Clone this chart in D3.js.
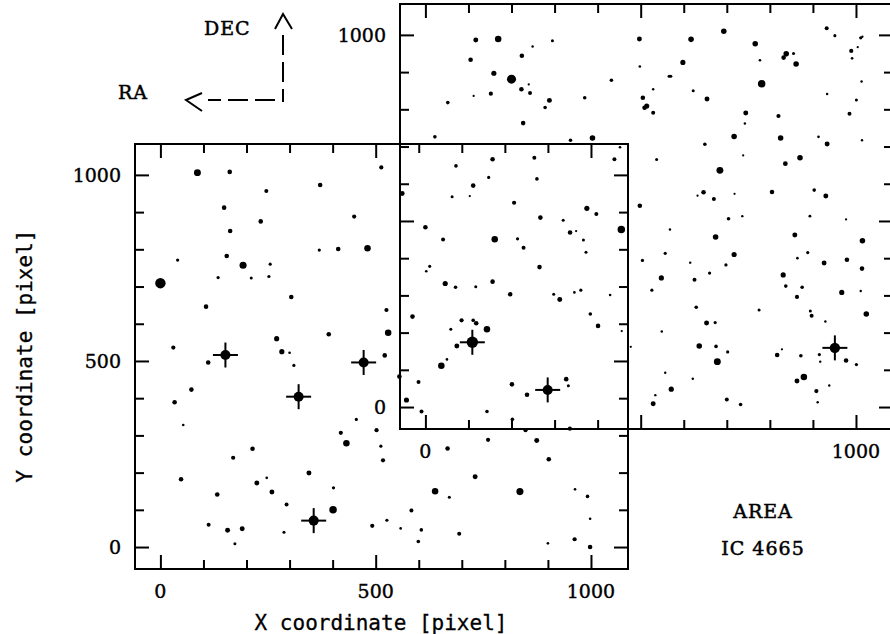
<!DOCTYPE html>
<html>
<head>
<meta charset="utf-8">
<script src="https://cdn.jsdelivr.net/npm/d3@7"></script>
<style>
  html, body { margin: 0; padding: 0; background: #fff; }
  svg { display: block; }
  .num { font-family: "DejaVu Serif", serif; font-size: 19px; fill: #000; stroke: #000; stroke-width: 0.4px; }
  .title { font-family: "DejaVu Sans Mono", monospace; font-size: 21px; fill: #000; stroke: #000; stroke-width: 0.3px; }
  .note { font-family: "DejaVu Serif", serif; font-size: 19px; letter-spacing: 1px; fill: #000; stroke: #000; stroke-width: 0.5px; }
</style>
</head>
<body>
<svg id="chart" width="890" height="634"></svg>
<script>
// Tick positions (pixel coordinates of the CCD frames)
const tickValues = [0, 100, 200, 300, 400, 500, 600, 700, 800, 900, 1000];
const majorTicks = [0, 500, 1000];
const fieldALabels = [0, 500, 1000];
const fieldBLabels = [0, 1000];

// Field A stars: [x, y, magnitude]
const fieldAStars = [
  [86,1006,12.8],[161,1008,14.0],[513,1020,14.2],[371,973,14.0],[246,957,14.3],
  [148,912,14.0],[233,875,14.0],[450,888,14.2],[162,849,14.0],[369,798,14.7],
  [413,801,14.0],[481,803,13.0],[40,771,14.7],[154,782,14.0],[192,757,12.7],
  [255,760,14.7],[0,709,11.0],[134,724,14.7],[211,723,14.8],[252,727,14.7],
  [304,672,14.0],[106,646,14.0],[525,637,14.2],[529,576,13.0],[391,572,14.0],
  [270,560,13.7],[30,536,14.2],[282,525,13.7],[300,522,15.0],[521,515,14.0],
  [111,496,14.0],[310,488,14.7],[555,458,14.0],[72,423,14.0],[33,389,14.0],
  [53,328,15.0],[455,343,14.7],[419,307,14.2],[502,314,14.2],[432,279,13.0],
  [512,271,14.7],[214,264,14.0],[169,240,14.2],[517,233,14.2],[48,182,14.0],
  [345,199,13.8],[247,186,15.0],[224,172,13.8],[132,141,14.0],[259,148,13.8],
  [402,159,14.7],[293,114,14.3],[401,100,12.5],[112,60,14.3],[156,45,13.8],
  [190,49,13.8],[492,57,14.2],[526,72,14.7],[287,40,14.8],[173,9,14.8],
  [558,50,15.0],[667,265,14.0],[761,288,14.2],[874,286,13.8],[902,236,14.0],
  [731,189,13.8],[638,150,13.0],[835,149,12.7],[671,134,14.8],[963,155,15.0],
  [992,136,14.5],[583,98,14.3],[606,46,14.5],[694,36,14.3],[599,15,14.5],
  [998,76,15.0],[900,10,15.0],[962,21,14.2],[998,0,14.0],[848,314,14.2],
  [951,318,14.2]
];
// Field A marked (cross) stars: [x, y, magnitude]
const fieldAMarked = [[151,516,11.2],[472,496,11.2],[321,404,11.2],[356,71,11.2]];

// Field B stars: [x, y, magnitude]
const fieldBStars = [
  [156,666,14.0],[253,670,14.3],[71,648,14.5],[439,666,14.3],[452,698,15.0],
  [147,617,14.7],[259,613,14.5],[111,595,14.0],[-54,574,13.8],[62,565,14.8],
  [103,567,15.2],[206,549,14.2],[375,534,13.7],[397,519,14.3],[267,509,14.0],
  [320,502,14.8],[0,483,14.0],[161,451,13.0],[41,450,14.3],[214,452,14.7],
  [336,469,14.0],[350,473,15.2],[367,449,14.8],[455,477,12.5],[228,428,14.3],
  [373,416,14.8],[10,378,14.8],[2,365,15.0],[265,376,14.0],[46,332,13.7],
  [70,322,14.5],[117,323,14.8],[156,337,14.0],[197,303,14.0],[298,303,14.8],
  [312,289,13.8],[346,308,15.0],[361,314,14.7],[429,301,15.0],[-30,243,14.0],
  [383,250,14.5],[84,233,14.2],[111,233,14.5],[118,225,14.0],[143,209,13.0],
  [59,209,14.8],[401,218,14.0],[456,204,15.2],[73,164,13.8],[50,128,15.0],
  [37,111,13.0],[-16,67,14.3],[327,75,14.0],[332,57,14.8],[201,61,14.0],
  [236,33,14.0],[-44,19,13.7],[-9,-12,14.3],[143,-12,14.5],[202,-33,14.5],
  [337,717,14.5],[388,723,13.5],[477,162,15.2],
  [117,986,13.8],[169,989,13.0],[295,984,14.8],[249,969,15.1],[497,989,13.8],
  [498,915,15.0],[105,933,14.0],[224,944,14.0],[159,897,13.7],[200,881,11.7],
  [240,867,15.2],[223,854,14.0],[243,844,14.3],[152,842,14.2],[112,836,15.2],
  [432,878,14.5],[370,831,14.5],[288,824,13.8],[52,818,14.5],[278,805,14.5],
  [227,763,14.0],[22,726,14.5],
  [932,1018,14.3],[951,998,14.8],[693,1010,13.5],[617,988,13.5],[766,976,13.5],
  [1011,992,14.7],[1015,995,15.2],[838,949,13.5],[832,939,14.0],[855,950,14.8],
  [861,922,13.5],[989,957,14.2],[1004,967,15.2],[991,937,15.0],[598,926,13.7],
  [777,932,15.0],[566,889,14.8],[570,889,14.8],[781,869,12.5],[1013,875,15.1],
  [529,854,15.1],[622,850,14.8],[505,831,14.0],[654,828,13.8],[933,841,15.1],
  [514,809,13.7],[509,804,14.0],[529,791,14.3],[744,790,13.8],[820,782,14.2],
  [1001,825,14.8],[985,788,14.3],[742,762,15.1],[717,727,13.5],[825,723,13.5],
  [913,726,15.0],[933,707,13.8],[1014,717,15.1],[649,706,14.5],[537,665,14.8],
  [738,676,15.2],[870,670,13.5],[836,654,13.9],[684,636,12.8],[646,577,14.0],
  [632,568,15.2],[670,559,14.3],[718,573,15.2],[805,578,14.0],[903,583,14.5],
  [930,567,13.8],[498,541,14.0],[704,506,14.5],[736,513,15.1],[893,513,14.9],
  [977,504,15.2],[568,477,15.1],[674,457,13.5],[858,462,13.8],[1015,447,13.5],
  [504,394,14.7],[557,413,14.7],[615,388,15.1],[717,410,13.7],[698,382,14.7],
  [660,360,14.7],[864,400,15.0],[888,415,14.7],[926,387,13.8],[979,396,14.0],
  [1014,372,14.0],[548,347,13.7],[625,342,14.3],[831,355,13.7],[526,314,14.7],
  [837,325,14.5],[875,322,14.5],[863,296,14.2],[967,308,13.7],[1011,312,15.1],
  [629,268,14.5],[775,261,14.8],[894,258,14.8],[897,245,14.3],[1024,250,13.5],
  [653,226,13.8],[673,227,14.7],[929,230,15.1],[549,203,15.1],[636,164,13.5],
  [675,163,14.5],[702,148,14.7],[678,122,12.8],[817,140,14.0],[828,155,15.2],
  [872,138,14.5],[915,141,14.7],[917,122,15.1],[977,125,14.0],[1001,114,14.7],
  [557,92,15.1],[621,76,15.1],[879,81,13.0],[863,70,13.8],[571,48,13.7],
  [938,58,15.1],[908,43,14.2],[534,32,15.1],[529,9,13.8],[700,20,14.3],
  [732,7,14.5],[911,13,15.1]
];
// Field B marked (cross) stars: [x, y, magnitude]
const fieldBMarked = [[109,174,10.5],[284,46,11.2],[951,159,11.0]];

const W = 493, H = 425;
const xDomain = [-59, 1086], yDomain = [-59, 1083];
const minorLen = 9, majorLen = 14, crossArm = 12.5;

const svg = d3.select("#chart");
const rScale = d3.scaleLinear().domain([16, 11]).range([0.35, 5.2]);

function drawField(ox, oy, stars, marked, labels) {
  const g = svg.append("g").attr("transform", `translate(${ox},${oy})`);
  const x = d3.scaleLinear().domain(xDomain).range([0, W]);
  const y = d3.scaleLinear().domain(yDomain).range([H, 0]);

  // frame
  g.append("rect").attr("x", 0).attr("y", 0).attr("width", W).attr("height", H)
    .attr("fill", "none").attr("stroke", "#000").attr("stroke-width", 2);

  // inward ticks on all four sides
  const minor = tickValues.filter(v => !majorTicks.includes(v));
  const sides = [
    [d3.axisBottom(x), `translate(0,${H})`],
    [d3.axisTop(x), `translate(0,0)`],
    [d3.axisLeft(y), `translate(0,0)`],
    [d3.axisRight(y), `translate(${W},0)`]
  ];
  sides.forEach(([axis, tr]) => {
    [[minor, minorLen], [majorTicks, majorLen]].forEach(([vals, len]) => {
      const a = g.append("g").attr("transform", tr)
        .call(axis.tickValues(vals).tickSize(-len).tickFormat(""));
      a.select(".domain").remove();
      a.selectAll(".tick line").attr("stroke", "#000").attr("stroke-width", 2);
    });
  });

  // tick labels
  g.selectAll(".xl").data(labels).join("text").attr("class", "num")
    .attr("x", d => x(d)).attr("y", H + 29).attr("text-anchor", "middle").text(d => d);
  g.selectAll(".yl").data(labels).join("text").attr("class", "num")
    .attr("x", -14).attr("y", d => y(d)).attr("dy", "0.36em")
    .attr("text-anchor", "end").text(d => d);

  // stars
  g.append("g").selectAll("circle").data(stars).join("circle")
    .attr("cx", d => x(d[0])).attr("cy", d => y(d[1])).attr("r", d => rScale(d[2]))
    .attr("fill", "#000");

  // marked stars with crosses
  const m = g.append("g").selectAll("g").data(marked).join("g")
    .attr("transform", d => `translate(${x(d[0])},${y(d[1])})`);
  m.append("circle").attr("r", d => rScale(d[2])).attr("fill", "#000");
  m.append("line").attr("x1", -crossArm).attr("x2", crossArm)
    .attr("stroke", "#000").attr("stroke-width", 2);
  m.append("line").attr("y1", -crossArm).attr("y2", crossArm)
    .attr("stroke", "#000").attr("stroke-width", 2);
}

drawField(400, 4, fieldBStars, fieldBMarked, fieldBLabels);
drawField(135, 144, fieldAStars, fieldAMarked, fieldALabels);

// axis titles
svg.append("text").attr("class", "title").attr("x", 381).attr("y", 630)
  .attr("text-anchor", "middle").text("X coordinate [pixel]");
svg.append("text").attr("class", "title").attr("text-anchor", "middle")
  .attr("transform", "translate(32,356) rotate(-90)").text("Y coordinate [pixel]");

// orientation arrows
const ink = { stroke: "#000", "stroke-width": 2, fill: "none" };
function styled(sel) { Object.entries(ink).forEach(([k, v]) => sel.attr(k, v)); return sel; }
styled(svg.append("line").attr("x1", 283).attr("y1", 35).attr("x2", 283).attr("y2", 102))
  .attr("stroke-dasharray", "20,7");
styled(svg.append("line").attr("x1", 275).attr("y1", 100).attr("x2", 208).attr("y2", 100))
  .attr("stroke-dasharray", "20,7");
styled(svg.append("path").attr("d", "M275,29 L283,14 L292,29"));
styled(svg.append("path").attr("d", "M202,93 L186,100 L202,111"));

svg.append("text").attr("class", "note").attr("x", 204).attr("y", 35).text("DEC");
svg.append("text").attr("class", "note").attr("x", 118).attr("y", 99).text("RA");
svg.append("text").attr("class", "note").attr("x", 763).attr("y", 518)
  .attr("text-anchor", "middle").text("AREA");
svg.append("text").attr("class", "note").attr("x", 763).attr("y", 555)
  .attr("text-anchor", "middle").text("IC 4665");
</script>
</body>
</html>
